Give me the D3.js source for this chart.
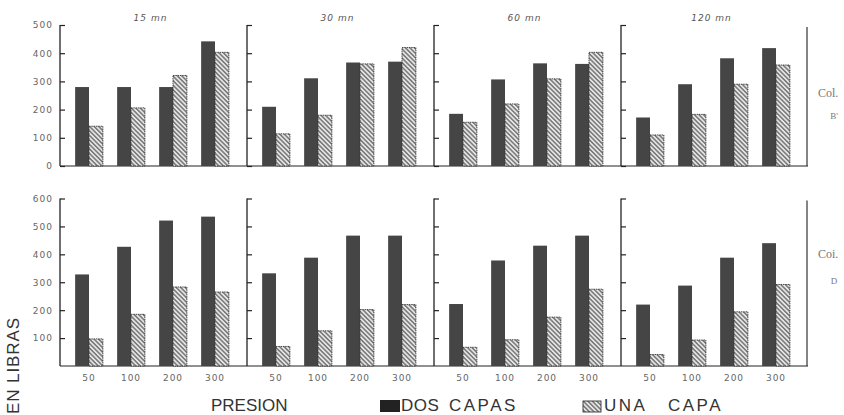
<!DOCTYPE html>
<html>
<head>
<meta charset="utf-8">
<script src="https://cdn.jsdelivr.net/npm/d3@7"></script>
<style>
  body { margin: 0; background: #fff; }
  svg { display: block; }
</style>
</head>
<body>
<div class="chart"></div>
<script>
let FRAME_WIDTH = 844;
let FRAME_HEIGHT = 415;

// panels (time) and groups (pressure)
const TIMES = ["15 mn", "30 mn", "60 mn", "120 mn"];
const PRESS = ["50", "100", "200", "300"];

// row B (top), values in libras, one array per panel
const DOS_B = [[280, 280, 280, 442], [210, 311, 367, 370], [185, 307, 364, 362], [172, 290, 382, 418]];
const UNA_B = [[141, 206, 321, 403], [114, 180, 362, 420], [155, 220, 309, 403], [110, 183, 290, 358]];

// row D (bottom)
const DOS_D = [[328, 427, 521, 535], [332, 388, 467, 467], [222, 378, 431, 467], [220, 288, 388, 440]];
const UNA_D = [[97, 185, 283, 265], [70, 126, 202, 220], [67, 94, 175, 275], [41, 93, 194, 292]];

const TICKS_B = [0, 100, 200, 300, 400, 500];
const TICKS_D = [100, 200, 300, 400, 500, 600];

let FRAME = d3.select(".chart")
              .append("svg")
              .attr("width", FRAME_WIDTH)
              .attr("height", FRAME_HEIGHT);

// hatch pattern for "una capa"
let defs = FRAME.append("defs");
let pat = defs.append("pattern")
              .attr("id", "hatch")
              .attr("patternUnits", "userSpaceOnUse")
              .attr("width", 3.2)
              .attr("height", 3.2)
              .attr("patternTransform", "rotate(-45)");
pat.append("rect").attr("width", 3.2).attr("height", 3.2).attr("fill", "#e6e6e6");
pat.append("line")
   .attr("x1", 0.8).attr("x2", 0.8)
   .attr("y1", 0).attr("y2", 3.2)
   .attr("stroke", "#5a5a5a")
   .attr("stroke-width", 1.2);

// panel scale
const X_PANEL = d3.scaleBand().domain(TIMES).range([60, 808]);
// group scale inside a panel
const X_GROUP = d3.scaleBand().domain(PRESS).range([8, 176])
                  .paddingInner(0.34).paddingOuter(0.17);
const X_SUB = d3.scaleBand().domain(["dos", "una"]).range([0, X_GROUP.bandwidth()]);

const ROWS = [
  {dos: DOS_B, una: UNA_B, ticks: TICKS_B, y: d3.scaleLinear().domain([0, 500]).range([166, 25]),
   col: ["Col.", "B'"], labY: [97, 119], xlabels: false},
  {dos: DOS_D, una: UNA_D, ticks: TICKS_D, y: d3.scaleLinear().domain([0, 600]).range([366, 198.5]),
   col: ["Coi.", "D"], labY: [258, 284], xlabels: true}
];

ROWS.forEach((row) => {
  let Y = row.y;
  TIMES.forEach((t, pi) => {
    let x0 = X_PANEL(t);
    let g = FRAME.append("g").attr("transform", "translate(" + x0 + ",0)");

    // baseline
    g.append("line")
     .attr("x1", 0).attr("x2", X_PANEL.bandwidth())
     .attr("y1", Y(0)).attr("y2", Y(0))
     .attr("stroke", "#222").attr("stroke-width", 1.2);

    let data = PRESS.map((p, i) => ({p: p, dos: row.dos[pi][i], una: row.una[pi][i]}));

    let grp = g.selectAll(".grp")
               .data(data)
               .enter()
               .append("g")
               .attr("transform", (d) => "translate(" + X_GROUP(d.p) + ",0)");

    grp.append("rect")
       .attr("x", X_SUB("dos"))
       .attr("y", (d) => Y(d.dos))
       .attr("width", X_SUB.bandwidth())
       .attr("height", (d) => Y(0) - Y(d.dos))
       .attr("fill", "#454545");

    grp.append("rect")
       .attr("x", X_SUB("una"))
       .attr("y", (d) => Y(d.una))
       .attr("width", X_SUB.bandwidth())
       .attr("height", (d) => Y(0) - Y(d.una))
       .attr("fill", "url(#hatch)")
       .attr("stroke", "#333")
       .attr("stroke-width", 0.9)
       .attr("stroke-dasharray", "1.5,0.8");

    // y axis on the left of each panel, ticks pointing inward
    let axis = d3.axisLeft(Y).tickValues(row.ticks)
                 .tickSizeInner(-5).tickSizeOuter(0).tickPadding(7);
    if (pi > 0) axis.tickFormat("");
    let ag = g.append("g").call(axis);
    ag.select(".domain")
      .attr("d", "M0," + Y(row.ticks[row.ticks.length - 1]) + "V" + Y(0))
      .attr("stroke", "#222").attr("stroke-width", 1.3);
    ag.selectAll(".tick line").attr("stroke", "#222").attr("stroke-width", 1.2);
    ag.selectAll(".tick text")
      .attr("fill", "#666")
      .attr("font-family", "DejaVu Sans, sans-serif")
      .attr("font-size", "9px")
      .attr("letter-spacing", "1px");

    // x labels under the bottom row
    if (row.xlabels) {
      grp.append("text")
         .attr("x", X_GROUP.bandwidth() / 2)
         .attr("y", 381)
         .attr("text-anchor", "middle")
         .attr("fill", "#666")
         .attr("font-family", "DejaVu Sans, sans-serif")
         .attr("font-size", "9px")
         .attr("letter-spacing", "1px")
         .text((d) => d.p);
    }
  });

  // right border line
  FRAME.append("line")
       .attr("x1", 807).attr("x2", 807)
       .attr("y1", Y(row.ticks[row.ticks.length - 1]) + 2).attr("y2", Y(0))
       .attr("stroke", "#333").attr("stroke-width", 1.2);

  // row labels
  row.col.forEach((s, i) => {
    FRAME.append("text")
         .attr("x", i == 0 ? 818 : 834)
         .attr("y", row.labY[i])
         .attr("fill", "#777")
         .attr("font-family", "Liberation Serif, serif")
         .attr("font-size", i == 0 ? "12px" : "9px")
         .attr("text-anchor", i == 0 ? "start" : "middle")
         .text(s);
  });
});

// panel titles
FRAME.selectAll(".title")
     .data(TIMES)
     .enter()
     .append("text")
     .attr("x", (d) => X_PANEL(d) + X_PANEL.bandwidth() / 2 - 3)
     .attr("y", 21)
     .attr("text-anchor", "middle")
     .attr("fill", "#555")
     .attr("font-family", "DejaVu Sans, sans-serif")
     .attr("font-style", "italic")
     .attr("font-size", "9px")
     .attr("letter-spacing", "1px")
     .text((d) => d);

// axis titles
FRAME.append("text")
     .attr("transform", "translate(19,414) rotate(-90)")
     .attr("fill", "#333")
     .attr("font-family", "Liberation Sans, sans-serif")
     .attr("font-size", "17px")
     .attr("textLength", 96)
     .attr("lengthAdjust", "spacing")
     .text("EN LIBRAS");

FRAME.append("text")
     .attr("x", 211).attr("y", 411)
     .attr("fill", "#333")
     .attr("font-family", "Liberation Sans, sans-serif")
     .attr("font-size", "17px")
     .text("PRESION");

// legend
function legendText(words, xs, spacing) {
  let t = FRAME.append("text")
               .attr("y", 411)
               .attr("fill", "#333")
               .attr("font-family", "Liberation Sans, sans-serif")
               .attr("font-size", "17px");
  words.forEach((w, i) => {
    t.append("tspan").attr("x", xs[i]).attr("letter-spacing", spacing[i] + "px").text(w);
  });
}

FRAME.append("rect")
     .attr("x", 380).attr("y", 400).attr("width", 20).attr("height", 12)
     .attr("fill", "#222");
legendText(["DOS", "CAPAS"], [401, 449], [0.5, 2.5]);

FRAME.append("rect")
     .attr("x", 583).attr("y", 401).attr("width", 18).attr("height", 11)
     .attr("fill", "url(#hatch)")
     .attr("stroke", "#333").attr("stroke-width", 0.9);
legendText(["UNA", "CAPA"], [604, 668], [2.5, 2.5]);
</script>
</body>
</html>
